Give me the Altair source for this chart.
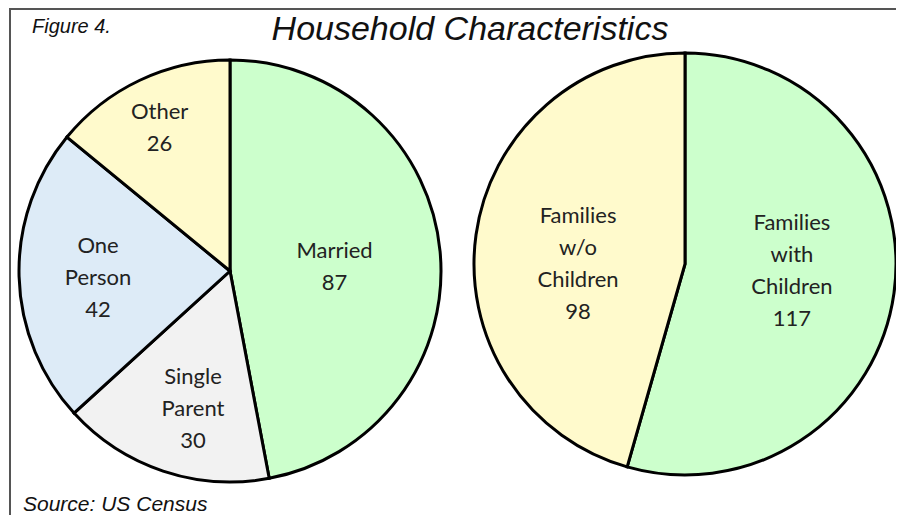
import altair as alt
import pandas as pd

# ---- data ----
left_cats = ["Married", "Single Parent", "One Person", "Other"]
left_vals = [87, 30, 42, 26]
right_cats = ["Families with Children", "Families w/o Children"]
right_vals = [117, 98]

title_text = ["Household Characteristics"]
figure_text = ["Figure 4."]
source_text = ["Source: US Census"]

# ---- styling / layout ----
all_cats = left_cats + right_cats
slice_colors = ["#ccffcc", "#f2f2f2", "#ddebf7", "#fffacc", "#ccffcc", "#fffacc"]
left_label_r = [105, 142, 132, 160]
right_label_r = [108, 108]
left_nudge_x = [0, 8, 0, -2]
left_nudge_y = [6, 3, 4, 2]
right_nudge_x = [0, 0]
right_nudge_y = [-8, 15]
R = 211
W, H = 888, 507
LINE_H = 32


def frame(cats, vals, lr, nx, ny):
    labels = [c.replace(" ", "\n") + "\n" + str(v) for c, v in zip(cats, vals)]
    return pd.DataFrame({
        "cat": cats,
        "value": vals,
        "idx": list(range(len(cats))),
        "label": labels,
        "nlines": [lab.count("\n") + 1 for lab in labels],
        "lr": lr,
        "nx": nx,
        "ny": ny,
    })


color_scale = alt.Scale(domain=all_cats, range=slice_colors)


def pie(df, cx, cy):
    arcs = alt.Chart(df).mark_arc(radius=R, stroke="black", strokeWidth=3).encode(
        theta=alt.Theta("value:Q", stack=True),
        order=alt.Order("idx:Q"),
        color=alt.Color("cat:N", scale=color_scale, legend=None),
        x=alt.value(cx),
        y=alt.value(cy),
    )
    labels = alt.Chart(df).transform_window(
        cum="sum(value)", sort=[alt.SortField("idx")], frame=[None, 0]
    ).transform_calculate(
        mid="datum.cum - datum.value / 2"
    ).mark_text(
        font="Lato", fontSize=22, lineBreak="\n", lineHeight=LINE_H,
        color="#222222", align="center", baseline="middle",
        dx={"expr": "datum.nx"},
        dy={"expr": f"datum.ny - (datum.nlines - 1) * {LINE_H / 2}"},
    ).encode(
        theta=alt.Theta("mid:Q"),
        radius=alt.Radius("lr:Q", scale=None),
        text="label:N",
        x=alt.value(cx),
        y=alt.value(cy),
    )
    return alt.layer(arcs, labels)


left_pie = pie(frame(left_cats, left_vals, left_label_r, left_nudge_x, left_nudge_y), 222, 263)
right_pie = pie(frame(right_cats, right_vals, right_label_r, right_nudge_x, right_nudge_y), 677, 256)


def label(txt, x, y, size, align="left"):
    return alt.Chart(pd.DataFrame({"t": txt})).mark_text(
        font="Liberation Sans", fontStyle="italic", fontSize=size,
        color="#111111", align=align, baseline="alphabetic",
    ).encode(text="t:N", x=alt.value(x), y=alt.value(y))


title = label(title_text, 462, 32, 34, "center")
fig = label(figure_text, 24, 25, 20)
src = label(source_text, 15, 503, 21)

dummy = pd.DataFrame({"a": [0]})
left_border = alt.Chart(dummy).mark_rule(color="#555555", strokeWidth=2).encode(
    x=alt.value(2), y=alt.value(0), y2=alt.value(H)
)
top_border = alt.Chart(dummy).mark_rule(color="#555555", strokeWidth=2).encode(
    x=alt.value(2), x2=alt.value(W), y=alt.value(1)
)

chart = alt.layer(
    left_pie, right_pie, title, fig, src, left_border, top_border
).resolve_scale(
    theta="independent"
).properties(
    width=W, height=H, autosize=alt.AutoSizeParams(type="none"), padding=0,
    background="white",
).configure_view(stroke=None)

chart.save("out.html", embed_options={"renderer": "svg", "actions": False})
